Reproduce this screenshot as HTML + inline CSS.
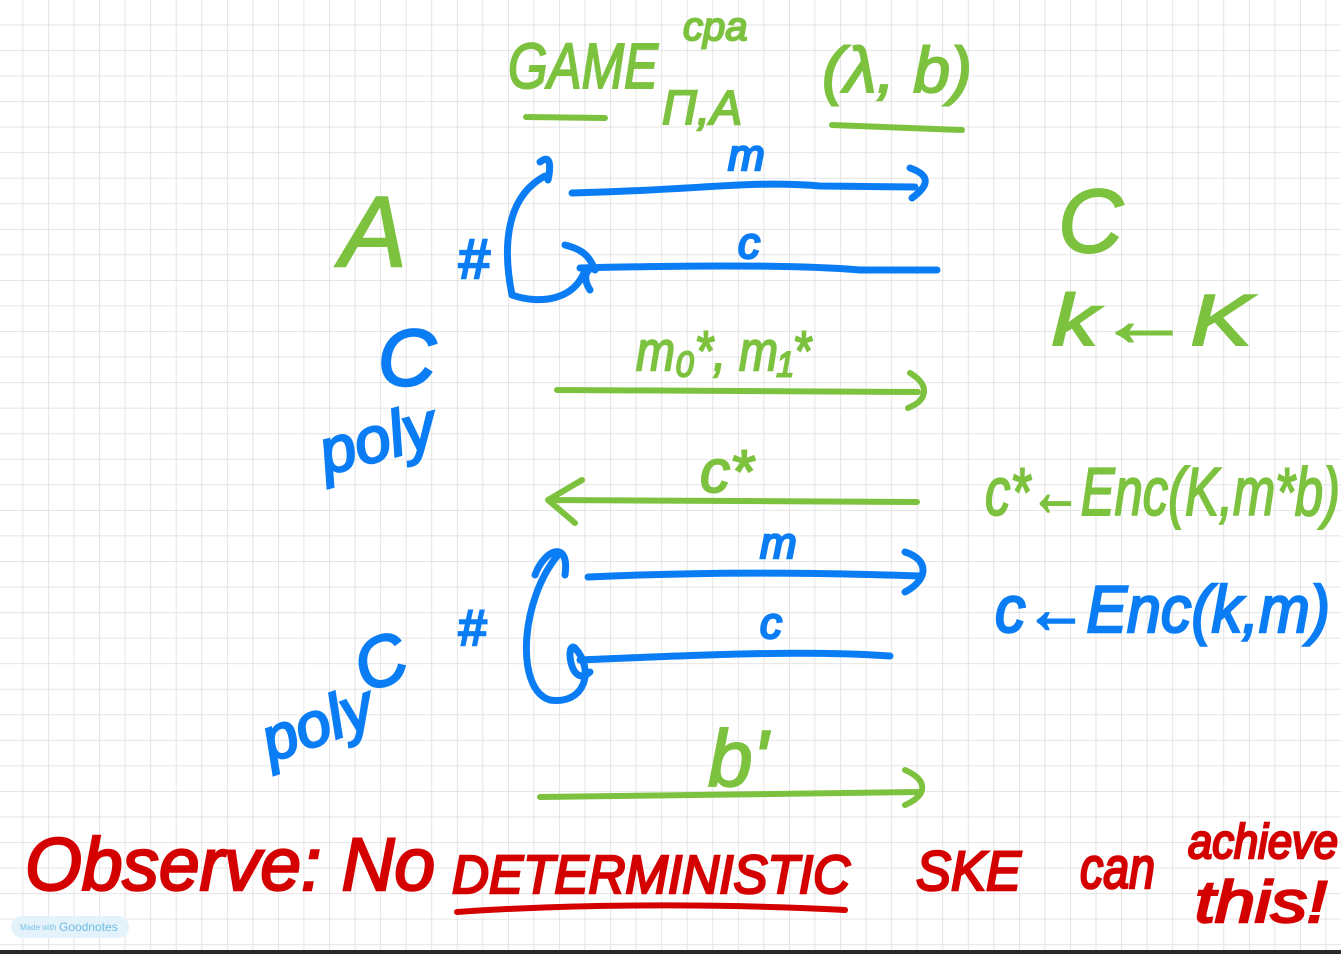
<!DOCTYPE html>
<html><head><meta charset="utf-8"><style>
html,body{margin:0;padding:0;background:#fff;width:1341px;height:954px;overflow:hidden}
svg{display:block}
.g{stroke:#7cc23f;fill:none;stroke-width:6;stroke-linecap:round;stroke-linejoin:round}
.b{stroke:#0a7df5;fill:none;stroke-width:7;stroke-linecap:round;stroke-linejoin:round}
.r{stroke:#d40000;fill:none;stroke-width:6;stroke-linecap:round}
.tg{fill:#7cc23f;stroke:#7cc23f;stroke-width:2;font-family:"Liberation Sans",sans-serif;font-style:italic}
.tb{fill:#0a7df5;stroke:#0a7df5;stroke-width:2.5;font-family:"Liberation Sans",sans-serif;font-style:italic}
.tr{fill:#d40000;stroke:#d40000;stroke-width:2.5;font-family:"Liberation Sans",sans-serif;font-style:italic}
</style></head><body>
<svg width="1341" height="954" viewBox="0 0 1341 954">
<defs><pattern id="grid" x="22.5" y="24.5" width="25.55" height="25.55" patternUnits="userSpaceOnUse"><path d="M0 0H25.55M0 0V25.55" stroke="#dcdcdc" stroke-width="1.5" fill="none"/></pattern></defs>
<rect width="1341" height="954" fill="url(#grid)"/>

<g>
<text class="tg" x="508" y="88" font-size="64" textLength="150" lengthAdjust="spacingAndGlyphs">GAME</text>
<text class="tg" x="683" y="40" font-size="40">cpa</text>
<text class="tg" x="662" y="124" font-size="48">Π,A</text>
<path class="g" d="M526 117 L605 118"/>
<text class="tg" x="822" y="92" font-size="64" textLength="150" lengthAdjust="spacingAndGlyphs">(λ, b)</text>
<path class="g" d="M832 125 L962 130"/>
</g>

<text class="tg" x="340" y="266" font-size="100">A</text>
<text class="tg" x="1058" y="252" font-size="90">C</text>
<text class="tg" x="1052" y="345" font-size="72" textLength="200" lengthAdjust="spacingAndGlyphs">k←K</text>

<g>
<path class="b" d="M572 193 C700 190 750 180 820 186 L915 187 M910 168 C930 175 930 185 912 198"/>
<text class="tb" x="728" y="170" font-size="44">m</text>
<path class="b" d="M540 162 C555 150 548 180 548 180 M545 176 C500 200 505 260 512 295 C540 305 575 300 585 270 M565 245 C585 250 590 258 595 270 C590 265 580 275 590 290"/>
<path class="b" d="M580 268 C700 265 800 265 860 270 L937 270"/>
<text class="tb" x="738" y="258" font-size="44">c</text>
<text class="tb" x="458" y="278" font-size="56">#</text>
</g>

<text class="tb" x="378" y="385" font-size="80">C</text>
<text class="tb" x="318" y="465" font-size="64" transform="rotate(-15 360 440)">poly</text>

<g>
<text class="tg" x="636" y="370" font-size="56" textLength="175" lengthAdjust="spacingAndGlyphs">m₀*, m₁*</text>
<path class="g" d="M557 390 L918 392 M910 373 C930 385 928 400 908 408"/>
</g>
<g>
<text class="tg" x="700" y="492" font-size="60">c*</text>
<path class="g" d="M548 500 L917 502 M582 480 L548 500 L575 523"/>
</g>
<text class="tg" x="985" y="515" font-size="68" textLength="355" lengthAdjust="spacingAndGlyphs">c*←Enc(K,m*b)</text>

<g>
<path class="b" d="M588 577 C700 572 800 572 920 576 M905 552 C930 560 928 580 905 592"/>
<text class="tb" x="760" y="558" font-size="44">m</text>
<path class="b" d="M535 575 C545 548 570 540 565 575 M558 555 C520 600 515 690 550 700 C585 705 595 670 575 648 C565 640 570 690 590 672"/>
<path class="b" d="M580 660 C700 655 800 650 890 656"/>
<text class="tb" x="760" y="638" font-size="44">c</text>
<text class="tb" x="458" y="645" font-size="50">#</text>
</g>
<text class="tb" x="995" y="632" font-size="66" textLength="335" lengthAdjust="spacingAndGlyphs">c←Enc(k,m)</text>
<text class="tb" x="352" y="680" font-size="70" transform="rotate(-20 395 650)">C</text>
<text class="tb" x="258" y="750" font-size="62" transform="rotate(-20 300 720)">poly</text>

<g>
<text class="tg" x="708" y="786" font-size="80">b'</text>
<path class="g" d="M540 797 L920 792 M905 770 C928 780 928 795 905 805"/>
</g>

<g>
<text class="tr" x="25" y="890" font-size="74" textLength="410" lengthAdjust="spacingAndGlyphs">Observe: No</text>
<text class="tr" x="452" y="893" font-size="54" textLength="398" lengthAdjust="spacingAndGlyphs">DETERMINISTIC</text>
<path class="r" d="M457 912 C600 902 750 905 845 910"/>
<text class="tr" x="916" y="890" font-size="56" textLength="105" lengthAdjust="spacingAndGlyphs">SKE</text>
<text class="tr" x="1080" y="888" font-size="58" textLength="75" lengthAdjust="spacingAndGlyphs">can</text>
<text class="tr" x="1188" y="858" font-size="48" textLength="150" lengthAdjust="spacingAndGlyphs">achieve</text>
<text class="tr" x="1195" y="922" font-size="58" textLength="132" lengthAdjust="spacingAndGlyphs">this!</text>
</g>

<g>
<rect x="11" y="916" width="118" height="22" rx="11" fill="#e4f3fb"/>
<text x="20" y="930" font-size="8" fill="#7cc3e4" font-family="Liberation Sans, sans-serif">Made with</text>
<text x="59" y="931" font-size="12" fill="#6cbde2" font-family="Liberation Sans, sans-serif">Goodnotes</text>
</g>
<rect x="0" y="950" width="1341" height="4" fill="#2a2a2a"/>
</svg>
</body></html>
